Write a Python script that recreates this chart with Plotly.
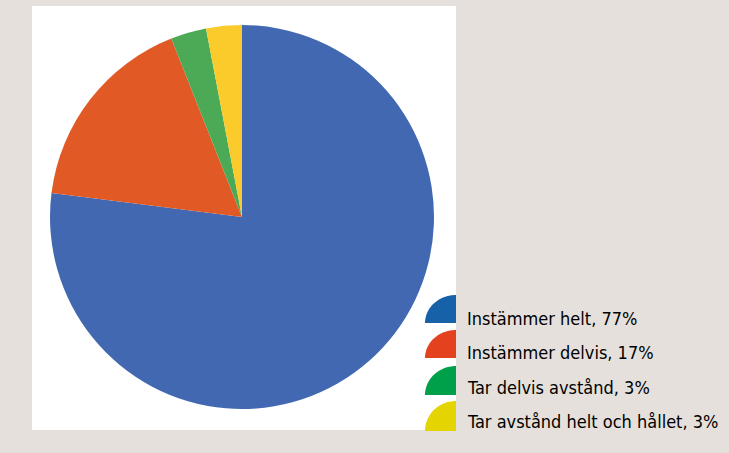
import numpy as np
import plotly.graph_objects as go

# ---- data ----
labels = ["Instämmer helt", "Instämmer delvis", "Tar delvis avstånd", "Tar avstånd helt och hållet"]
values = [77, 17, 3, 3]
legend_texts = ["Instämmer helt, 77%", "Instämmer delvis, 17%", "Tar delvis avstånd, 3%",
                "Tar avstånd helt och hållet, 3%"]
slice_colors = ["#4168b1", "#e15a26", "#4caa57", "#fbcb2b"]
icon_colors = ["#1761a9", "#e4421f", "#00a04b", "#e3d402"]

W, H = 729, 453


def px(x):
    return x / W


def py(y):
    return 1 - y / H


fig = go.Figure()
fig.add_trace(go.Pie(
    labels=labels, values=values, sort=False, direction="clockwise", rotation=0,
    marker=dict(colors=slice_colors, line=dict(width=0)),
    textinfo="none", hoverinfo="label+percent", showlegend=False,
    domain=dict(x=[px(50), px(434)], y=[py(409), py(25)]),
))

shapes = [dict(type="rect", xref="paper", yref="paper", x0=px(32), x1=px(456),
               y0=py(430), y1=py(6), fillcolor="white", line=dict(width=0), layer="below")]

annotations = []
icon_tops = [295, 330, 366, 401]
icon_bottoms = [323, 358, 395, 431]
text_y = [318, 352, 387, 421]
for i, txt in enumerate(legend_texts):
    x_r, y_b = 456, icon_bottoms[i]
    rx, ry = 31, icon_bottoms[i] - icon_tops[i]
    t = np.linspace(np.pi, np.pi / 2, 30)
    xs = x_r + rx * np.cos(t)
    ys = y_b - ry * np.sin(t)
    path = f"M {px(x_r)},{py(y_b)} " + " ".join(f"L {px(a)},{py(b)}" for a, b in zip(xs, ys)) + " Z"
    shapes.append(dict(type="path", xref="paper", yref="paper", path=path,
                       fillcolor=icon_colors[i], line=dict(width=0)))
    annotations.append(dict(x=px(465), y=py(text_y[i]), xref="paper", yref="paper",
                            xanchor="left", yanchor="middle", showarrow=False, text=txt,
                            font=dict(family="DejaVu Sans Condensed, sans-serif",
                                      size=18, color="#000000")))

fig.update_layout(
    width=W, height=H, margin=dict(l=0, r=0, t=0, b=0),
    paper_bgcolor="#e5e0dc", plot_bgcolor="#e5e0dc",
    shapes=shapes, annotations=annotations,
)
fig.write_html("out.html", config={"displayModeBar": False},
               post_script="document.body.style.margin='0';document.body.style.background='#e5e0dc';")
